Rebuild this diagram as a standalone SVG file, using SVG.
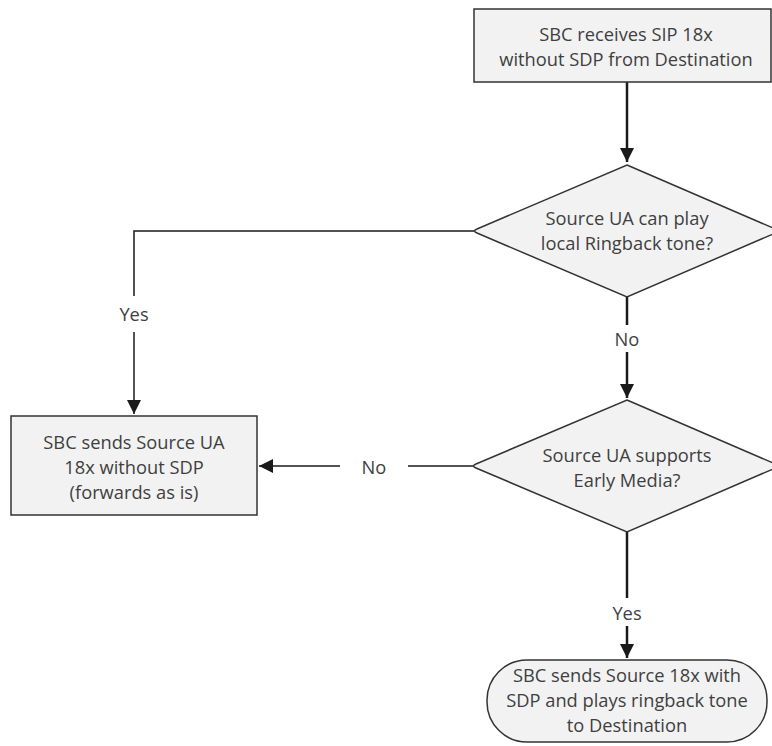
<svg xmlns="http://www.w3.org/2000/svg" width="772" height="746" viewBox="0 0 772 746">
<defs>
<style>
.n{fill:#f2f2f2;stroke:#333333;stroke-width:1.5}
.t{font-family:"Open Sans","Liberation Sans",sans-serif;font-size:18.3px;fill:#3f3f3f;text-anchor:middle;dominant-baseline:central}
.c{fill:none;stroke:#1a1a1a;stroke-width:1.5}
.c2{fill:none;stroke:#1a1a1a;stroke-width:2.5}
</style>
<marker id="ah2" viewBox="0 0 10 10" refX="10" refY="5" markerWidth="14" markerHeight="14" markerUnits="userSpaceOnUse" orient="auto">
<path d="M0,0 L10,5 L0,10 z" fill="#1a1a1a"/>
</marker>
</defs>
<rect width="772" height="746" fill="#ffffff"/>
<g id="connectors">
<path class="c2" d="M627,82 V162" marker-end="url(#ah2)"/>
<path class="c" d="M474,231 H134 V296"/>
<path class="c" d="M134,332 V414" marker-end="url(#ah2)"/>
<text class="t" x="134" y="313">Yes</text>
<path class="c2" d="M627,297 V325"/>
<path class="c2" d="M627,352 V398" marker-end="url(#ah2)"/>
<text class="t" x="627" y="338">No</text>
<path class="c" d="M473,466 H408"/>
<path class="c" d="M340,466 H259" marker-end="url(#ah2)"/>
<text class="t" x="374" y="466">No</text>
<path class="c2" d="M627,532 V598"/>
<path class="c2" d="M627,626 V658" marker-end="url(#ah2)"/>
<text class="t" x="627" y="612">Yes</text>
</g>
<g id="start">
<rect class="n" x="474" y="9" width="297" height="73"/>
<text class="t" x="626" y="33">SBC receives SIP 18x</text>
<text class="t" x="626" y="58">without SDP from Destination</text>
</g>
<g id="decision1">
<path class="n" d="M627,165 L780,231 L627,297 L477,233 Q472,231 477,229 Z"/>
<text class="t" x="627" y="217">Source UA can play</text>
<text class="t" x="627" y="242">local Ringback tone?</text>
</g>
<g id="forward">
<rect class="n" x="11" y="416" width="246" height="99"/>
<text class="t" x="134" y="441">SBC sends Source UA</text>
<text class="t" x="134" y="466">18x without SDP</text>
<text class="t" x="134" y="491">(forwards as is)</text>
</g>
<g id="decision2">
<path class="n" d="M627,400 L780,466 L627,532 L476,468 Q471,466 476,464 Z"/>
<text class="t" x="627" y="454">Source UA supports</text>
<text class="t" x="627" y="479">Early Media?</text>
</g>
<g id="end">
<rect class="n" x="487" y="660" width="280" height="82" rx="40" ry="40"/>
<text class="t" x="627" y="674">SBC sends Source 18x with</text>
<text class="t" x="627" y="699">SDP and plays ringback tone</text>
<text class="t" x="627" y="724">to Destination</text>
</g>
</svg>
